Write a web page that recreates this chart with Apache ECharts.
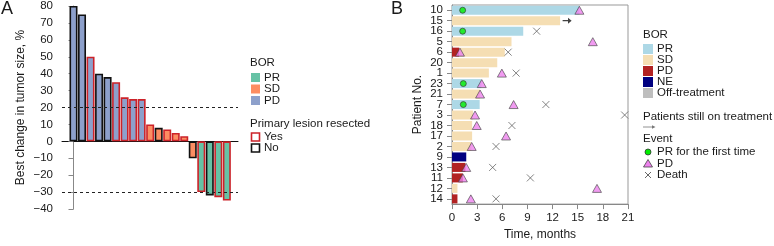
<!DOCTYPE html>
<html>
<head>
<meta charset="utf-8">
<script src="https://cdn.jsdelivr.net/npm/echarts@6/dist/echarts.min.js"></script>
<style>
html,body{margin:0;padding:0;background:#fff;}
#chart{width:774px;height:246px;}
</style>
</head>
<body>
<div id="chart"></div>
<script>
// ---------- Panel A data ----------
const aValues = [80, 75, 50, 40, 38, 35, 26, 25, 25, 10, 8, 7, 5, 3, -10, -30, -32, -33, -35];
const aBOR = ['PD','PD','PD','PD','PD','PD','PD','PD','PD','SD','SD','SD','SD','SD','SD','PR','PR','PR','PR'];
const aResected = ['No','No','Yes','No','No','Yes','Yes','Yes','Yes','Yes','No','Yes','Yes','Yes','No','Yes','No','Yes','Yes'];
const aRefLines = [20, -30];
const aYTicks = {min: -40, max: 80, interval: 10};

// ---------- Panel B data ----------
const patients = ['10','15','16','5','6','20','1','23','21','7','3','18','17','2','9','13','11','12','14'];
const bBOR     = ['PR','SD','PR','SD','SD','SD','SD','PR','SD','PR','SD','SD','SD','SD','NE','PD','PD','SD','PD'];
const pdStart  = [0, 0, 0, 0, 0.87, 0, 0, 0, 0, 0, 0, 0, 0, 0, 0, 0, 0, 0, 0];
const treatEnd = [15.2, 12.9, 8.5, 7.1, 6.3, 5.4, 4.4, 3.5, 3.35, 3.3, 2.5, 2.4, 2.4, 2.3, 1.7, 1.6, 1.3, 0.65, 0.65];
const prFirst  = [1.27, null, 1.27, null, null, null, null, 1.35, null, 1.35, null, null, null, null, null, null, null, null, null];
const pdEvent  = [15.2, null, null, 16.8, 0.95, null, 5.95, 3.55, 3.35, 7.35, 2.75, 2.95, 6.45, 2.35, null, 1.7, 1.3, 17.3, 2.25];
const death    = [null, null, 10.1, null, 6.7, null, 7.65, null, null, 11.2, 20.6, 7.15, null, 5.25, null, 4.85, 9.35, null, 5.25];
const stillOn  = ['15'];
const bXTicks = {min: 0, max: 21, interval: 3};

// ---------- styling ----------
const FONT = '"Liberation Sans", Arial, Helvetica, sans-serif';
const TXT = '#1a1a1a';
const colA = {PR: '#66C2A5', SD: '#FC8D62', PD: '#8DA0CB'};
const borderA = {Yes: '#CC2229', No: '#111111'};
const colB = {PR: '#ADD8E6', SD: '#F5DEB3', PD: '#B22222', NE: '#000080', OFF: '#BEBEBE'};
const minus = v => String(v).replace('-', '\u2212');

const chart = echarts.init(document.getElementById('chart'), null, {renderer: 'canvas'});

const aData = aValues.map((v, i) => ({
  value: [i, v],
  itemStyle: {color: colA[aBOR[i]], borderColor: borderA[aResected[i]]}
}));

const bMain = treatEnd.map((t, i) => ({
  value: +(t - pdStart[i]).toFixed(3),
  itemStyle: {color: colB[bBOR[i]]}
}));

const pts = arr => arr.map((v, i) => v == null ? null : [v, patients[i]]).filter(d => d);

function legendText(x, y, text, size) {
  return {type: 'text', x: x, y: y, silent: true,
    style: {text: text, fill: TXT, fontSize: size || 11.5, fontFamily: FONT, verticalAlign: 'middle'}};
}
function sq(x, y, w, fill, stroke, lw) {
  return {type: 'rect', silent: true, shape: {x: x, y: y, width: w, height: w},
    style: {fill: fill, stroke: stroke || null, lineWidth: lw || 0}};
}

const graphics = [
  {type: 'text', x: 1, y: 0, silent: true, style: {text: 'A', fill: TXT, fontSize: 18, fontFamily: FONT}},
  {type: 'text', x: 391, y: 0, silent: true, style: {text: 'B', fill: TXT, fontSize: 18, fontFamily: FONT}},
  // Legend A
  legendText(250, 63, 'BOR'),
  sq(251, 73, 9, colA.PR), legendText(264, 77.5, 'PR'),
  sq(251, 84.5, 9, colA.SD), legendText(264, 89, 'SD'),
  sq(251, 96, 9, colA.PD), legendText(264, 100.5, 'PD'),
  legendText(250, 124, 'Primary lesion resected'),
  sq(251.5, 133, 8, '#fff', borderA.Yes, 1.6), legendText(264, 137, 'Yes'),
  sq(251.5, 144, 8, '#fff', borderA.No, 1.6), legendText(264, 148, 'No'),
  // Legend B
  legendText(643, 35, 'BOR'),
  sq(643, 44, 10, colB.PR), legendText(657, 49, 'PR'),
  sq(643, 55, 10, colB.SD), legendText(657, 60, 'SD'),
  sq(643, 66, 10, colB.PD), legendText(657, 71, 'PD'),
  sq(643, 77, 10, colB.NE), legendText(657, 82, 'NE'),
  sq(643, 88, 10, colB.OFF), legendText(657, 93, 'Off-treatment'),
  legendText(643, 117, 'Patients still on treatment'),
  {type: 'line', silent: true, shape: {x1: 643, y1: 127, x2: 653, y2: 127}, style: {stroke: '#777', lineWidth: 0.8}},
  {type: 'polygon', silent: true, shape: {points: [[652, 125.3], [655.5, 127], [652, 128.7]]}, style: {fill: '#777'}},
  legendText(643, 139, 'Event'),
  {type: 'circle', silent: true, shape: {cx: 648, cy: 152, r: 3}, style: {fill: '#00EE00', stroke: '#333', lineWidth: 0.8}},
  legendText(657, 152, 'PR for the first time'),
  {type: 'polygon', silent: true, shape: {points: [[648, 159.5], [652.5, 167], [643.5, 167]]}, style: {fill: '#EE82EE', stroke: '#444', lineWidth: 0.8}},
  legendText(657, 163.5, 'PD'),
  {type: 'line', silent: true, shape: {x1: 645, y1: 172, x2: 651, y2: 178}, style: {stroke: '#555', lineWidth: 0.9}},
  {type: 'line', silent: true, shape: {x1: 651, y1: 172, x2: 645, y2: 178}, style: {stroke: '#555', lineWidth: 0.9}},
  legendText(657, 175, 'Death')
];

const option = {
  animation: false,
  textStyle: {fontFamily: FONT, color: TXT},
  graphic: graphics,
  grid: [
    {left: 62, top: 6, width: 176, height: 203},
    {left: 452, top: 5, width: 176, height: 202, show: true, borderColor: '#999', borderWidth: 1}
  ],
  xAxis: [
    {type: 'value', gridIndex: 0, min: -1.35, max: 19.31,
      axisLine: {show: true, onZero: true, lineStyle: {color: '#111', width: 1}},
      axisTick: {show: false}, axisLabel: {show: false}, splitLine: {show: false}},
    {type: 'value', gridIndex: 1, min: bXTicks.min, max: bXTicks.max, interval: bXTicks.interval,
      name: 'Time, months', nameLocation: 'middle', nameGap: 20,
      nameTextStyle: {fontSize: 12, color: TXT, fontFamily: FONT},
      axisLine: {show: true, lineStyle: {color: '#888'}},
      axisTick: {show: true, length: 5, lineStyle: {color: '#888'}},
      axisLabel: {fontSize: 11.5, color: TXT, margin: 8, fontFamily: FONT},
      splitLine: {show: false}}
  ],
  yAxis: [
    {type: 'value', gridIndex: 0, min: aYTicks.min, max: aYTicks.max, interval: aYTicks.interval,
      name: 'Best change in tumor size, %', nameLocation: 'middle', nameGap: 35,
      nameTextStyle: {fontSize: 12, color: TXT, fontFamily: FONT},
      axisLine: {show: true, lineStyle: {color: '#888'}},
      axisTick: {show: true, length: 5, lineStyle: {color: '#888'}},
      axisLabel: {fontSize: 11.5, color: TXT, margin: 9, formatter: minus, fontFamily: FONT},
      splitLine: {show: false}},
    {type: 'category', gridIndex: 1, data: patients, inverse: true,
      name: 'Patient No.', nameLocation: 'middle', nameGap: 28,
      nameTextStyle: {fontSize: 12, color: TXT, fontFamily: FONT},
      axisLine: {show: true, lineStyle: {color: '#888'}},
      axisTick: {show: true, alignWithLabel: true, length: 5, lineStyle: {color: '#888'}},
      axisLabel: {fontSize: 11.5, color: TXT, margin: 9, interval: 0, fontFamily: FONT},
      splitLine: {show: false}}
  ],
  series: [
    {name: 'refLines', type: 'line', xAxisIndex: 0, yAxisIndex: 0, data: [], z: 1,
      markLine: {silent: true, symbol: 'none', label: {show: false},
        lineStyle: {type: [3, 3], color: '#222', width: 1},
        data: aRefLines.map(v => ({yAxis: v}))}},
    {name: 'Best change', type: 'bar', xAxisIndex: 0, yAxisIndex: 0, barWidth: 8, z: 3,
      itemStyle: {borderWidth: 1.6}, data: aData},
    {name: 'Initial PD', type: 'bar', xAxisIndex: 1, yAxisIndex: 1, stack: 'tx',
      barCategoryGap: '14%', itemStyle: {color: colB.PD}, data: pdStart},
    {name: 'Treatment', type: 'bar', xAxisIndex: 1, yAxisIndex: 1, stack: 'tx',
      barCategoryGap: '14%', data: bMain},
    {name: 'Still on treatment', type: 'scatter', xAxisIndex: 1, yAxisIndex: 1, z: 5,
      symbol: 'path://M0,2.4L6,2.4L6,0L10,3L6,6L6,3.6L0,3.6Z', symbolSize: [9, 6], symbolOffset: [7, 0],
      itemStyle: {color: '#111'},
      data: stillOn.map(p => [treatEnd[patients.indexOf(p)], p])},
    {name: 'PR for the first time', type: 'scatter', xAxisIndex: 1, yAxisIndex: 1, z: 6,
      symbol: 'circle', symbolSize: 6,
      itemStyle: {color: '#00EE00', borderColor: '#333', borderWidth: 0.8},
      data: pts(prFirst)},
    {name: 'PD', type: 'scatter', xAxisIndex: 1, yAxisIndex: 1, z: 6,
      symbol: 'triangle', symbolSize: [9, 8],
      itemStyle: {color: '#EE82EE', borderColor: '#444', borderWidth: 0.8},
      data: pts(pdEvent)},
    {name: 'Death', type: 'scatter', xAxisIndex: 1, yAxisIndex: 1, z: 6,
      symbol: 'path://M0,0L10,10M10,0L0,10', symbolSize: 7,
      itemStyle: {color: 'rgba(0,0,0,0)', borderColor: '#555', borderWidth: 0.9},
      data: pts(death)}
  ]
};
chart.setOption(option);
</script>
</body>
</html>
